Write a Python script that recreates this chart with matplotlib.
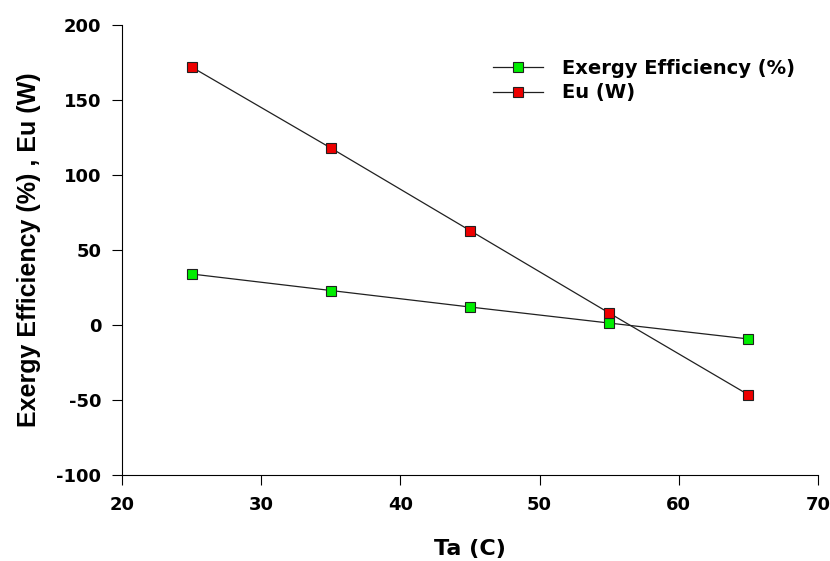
import matplotlib
matplotlib.use("Agg")
import matplotlib.pyplot as plt

plt.rcParams['font.family'] = ['DejaVu Sans']
plt.rcParams['font.weight'] = 'bold'
plt.rcParams['axes.unicode_minus'] = False

# data
ta = [25, 35, 45, 55, 65]
exergy_eff = [34, 23, 12, 1.3, -9.3]
eu = [172, 118, 63, 8, -46.5]

fig = plt.figure(figsize=(8.3, 5.61), dpi=100)
ax = fig.add_axes([0.147, 0.1533, 0.8385, 0.8021])

ax.plot(ta, exergy_eff, color="#202020", lw=0.9, marker="s", markersize=7.5,
        markerfacecolor="#00ee00", markeredgecolor="#202020", markeredgewidth=0.8,
        label="Exergy Efficiency (%)")
ax.plot(ta, eu, color="#202020", lw=0.9, marker="s", markersize=7.5,
        markerfacecolor="#ee0000", markeredgecolor="#202020", markeredgewidth=0.8,
        label="Eu (W)")

ax.set_xlim(20, 70)
ax.set_ylim(-100, 200)
ax.set_xticks([20, 30, 40, 50, 60, 70])
ax.set_yticks([-100, -50, 0, 50, 100, 150, 200])
ax.spines['top'].set_visible(False)
ax.spines['right'].set_visible(False)
ax.tick_params(direction="out", length=7, width=0.8, labelsize=13, pad=8)
for lab in ax.get_xticklabels() + ax.get_yticklabels():
    lab.set_fontweight("bold")

ax.set_xlabel("Ta (C)", fontsize=16, fontweight="bold", labelpad=18)
ax.set_ylabel("Exergy Efficiency (%) , Eu (W)", fontsize=18, fontweight="bold",
              labelpad=11, family="Liberation Sans")

ax.legend(loc="upper left", bbox_to_anchor=(0.5216, 0.942), frameon=False,
          handlelength=2.6, handletextpad=0.95, labelspacing=0.28,
          borderaxespad=0, prop={"weight": "bold", "size": 14})

plt.savefig("out.png", dpi=100)
